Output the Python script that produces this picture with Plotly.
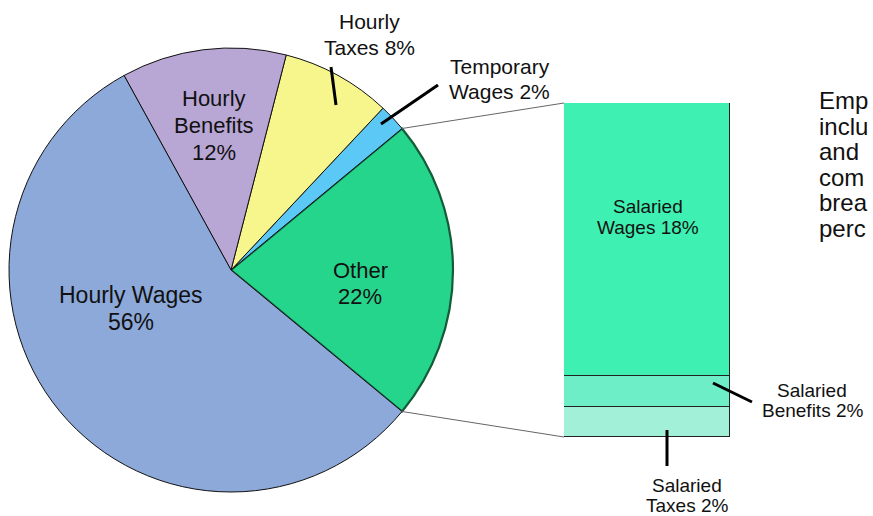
import math
import plotly.graph_objects as go

W, H = 873, 516

# ---- data ----
pie_labels = ["Other", "Temporary Wages", "Hourly Taxes", "Hourly Benefits", "Hourly Wages"]
pie_values = [22, 2, 8, 12, 56]
pie_colors = ["#25d58c", "#5cc8f6", "#f7f68c", "#b8a7d5", "#8ca9d9"]

bar_labels = ["Salaried Taxes", "Salaried Benefits", "Salaried Wages"]
bar_values = [2, 2, 18]
bar_colors = ["#a3f0d8", "#6deec6", "#3ef1b2"]

side_text = ["Emp", "inclu", "and", "com", "brea", "perc"]

FONT = "Liberation Sans, Arial, sans-serif"

# ---- geometry (pixels) ----
cx, cy, R = 231, 270, 222
total = sum(pie_values)
other_deg = pie_values[0] / total * 360
rotation = 90 - other_deg / 2  # centre "Other" on 3 o'clock

pie_dom_x = [(cx - R) / W, (cx + R) / W]
pie_dom_y = [(H - cy - R) / H, (H - cy + R) / H]

bar_px_x = (564, 730)
bar_px_y = (103, 437)
bar_dom_x = [bar_px_x[0] / W, bar_px_x[1] / W]
bar_dom_y = [(H - bar_px_y[1]) / H, (H - bar_px_y[0]) / H]


def px(x, y):
    return x / W, 1 - y / H


fig = go.Figure()

fig.add_trace(go.Pie(
    labels=pie_labels, values=pie_values, sort=False,
    direction="counterclockwise", rotation=rotation,
    marker=dict(colors=pie_colors,
                line=dict(color=["#145c38", "#111", "#111", "#111", "#111"],
                          width=[2.2, 1, 1, 1, 1])),
    textinfo="none", hoverinfo="label+percent", showlegend=False,
    domain=dict(x=pie_dom_x, y=pie_dom_y),
))

for lab, v, c in zip(bar_labels, bar_values, bar_colors):
    fig.add_trace(go.Bar(
        x=["Salaried"], y=[v], name=lab, width=1,
        marker=dict(color=c, line=dict(color="#222", width=1.2)),
        showlegend=False, hoverinfo="name+y",
    ))

fig.update_layout(
    width=W, height=H, margin=dict(l=0, r=0, t=0, b=0),
    paper_bgcolor="white", plot_bgcolor="rgba(0,0,0,0)",
    barmode="stack", bargap=0,
    xaxis=dict(domain=bar_dom_x, range=[-0.5, 0.5], visible=False, fixedrange=True),
    yaxis=dict(domain=bar_dom_y, range=[0, sum(bar_values)], visible=False, fixedrange=True),
    font=dict(family=FONT, color="#111"),
)

shapes = []
# connector lines from edges of "Other" slice to the bar corners
for ang, by in ((rotation, bar_dom_y[1]), (rotation + other_deg, bar_dom_y[0])):
    a = math.radians(ang)
    x0, y0 = px(cx + R * math.sin(a), cy - R * math.cos(a))
    shapes.append(dict(type="line", xref="paper", yref="paper",
                       x0=x0, y0=y0, x1=bar_dom_x[0], y1=by,
                       line=dict(color="#666", width=1)))

# leader lines for outside labels
leaders = [((331, 67), (336, 105)),
           ((438, 85), (381, 124)),
           ((752, 402), (713, 383)),
           ((667, 466), (667, 430))]
for (a, b) in leaders:
    x0, y0 = px(*a)
    x1, y1 = px(*b)
    shapes.append(dict(type="line", xref="paper", yref="paper",
                       x0=x0, y0=y0, x1=x1, y1=y1,
                       line=dict(color="#000", width=3)))
fig.update_layout(shapes=shapes)

ann = []


def label(lines, x, y, size, gap):
    n = len(lines)
    for i, t in enumerate(lines):
        ax, ay = px(x, y + (i - (n - 1) / 2) * gap)
        ann.append(dict(text=t, x=ax, y=ay, xref="paper", yref="paper",
                        showarrow=False, xanchor="center", yanchor="middle",
                        font=dict(size=size, family=FONT, color="#111")))


label(["Hourly Wages", "56%"], 131, 308, 23, 27)
label(["Hourly", "Benefits", "12%"], 214, 125, 22, 27)
label(["Other", "22%"], 360, 283, 22, 26)
label(["Hourly", "Taxes 8%"], 369, 35, 21, 26)
label(["Temporary", "Wages 2%"], 500, 79, 21, 25)
label(["Salaried", "Wages 18%"], 648, 217, 19, 21)
label(["Salaried", "Benefits 2%"], 812, 400, 19, 20)
label(["Salaried", "Taxes 2%"], 687, 495, 19, 20)

# side paragraph: one text block, base size sets the 25.6px line pitch,
# inner spans set the larger glyph size
side_html = "<br>".join('<span style="font-size:24px">%s</span>' % t for t in side_text)
ax, ay = px(817, 100 + 2.5 * 25.6)
ann.append(dict(text=side_html, x=ax, y=ay, xref="paper", yref="paper",
                showarrow=False, xanchor="left", yanchor="middle", align="left",
                font=dict(size=19.7, family=FONT, color="#111")))

fig.update_layout(annotations=ann)

fig.write_html("out.html", config={"displayModeBar": False},
               post_script="document.body.style.margin='0';document.body.style.overflow='hidden';")
